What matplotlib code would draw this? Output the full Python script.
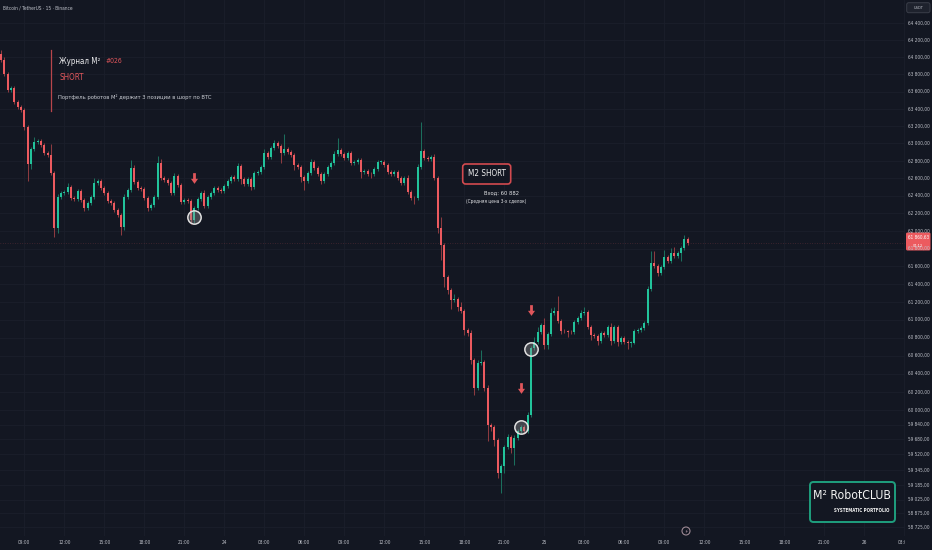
import numpy as np
import matplotlib
matplotlib.use("Agg")
import matplotlib.pyplot as plt
from matplotlib import font_manager
from matplotlib.patches import FancyBboxPatch, Circle
from matplotlib.path import Path
from matplotlib.transforms import (Bbox, TransformedBbox, IdentityTransform,
                                   blended_transform_factory, offset_copy)
from matplotlib.ticker import NullLocator, NullFormatter

# ---------------- data ----------------
open0 = 64040
close = [
    63970, 63805, 63620, 63642, 63479, 63421, 63386, 63190, 62763, 62935,
    63016, 63027, 62982, 62890, 62867, 62660, 62033, 62385, 62431, 62442,
    62500, 62374, 62362, 62454, 62351, 62260, 62317, 62385, 62546, 62569,
    62488, 62431, 62340, 62317, 62237, 62180, 62044, 62385, 62465, 62717,
    62557, 62488, 62477, 62374, 62260, 62294, 62385, 62775, 62603, 62580,
    62546, 62431, 62626, 62523, 62328, 62351, 62340, 62123, 62260, 62362,
    62431, 62283, 62385, 62431, 62488, 62465, 62454, 62511, 62569, 62614,
    62591, 62740, 62591, 62534, 62591, 62500, 62660, 62671, 62729, 62890,
    62844, 62947, 63004, 62970, 62890, 62936, 62901, 62867, 62752, 62729,
    62614, 62569, 62660, 62786, 62717, 62649, 62569, 62649, 62729, 62775,
    62878, 62924, 62878, 62832, 62890, 62775, 62786, 62809, 62671, 62683,
    62649, 62645, 62706, 62786, 62790, 62752, 62671, 62649, 62671, 62603,
    62546, 62603, 62442, 62374, 62370, 62729, 62913, 62832, 62821, 62844,
    62603, 62033, 61840, 61479, 61333, 61220, 61231, 61142, 61097, 60885,
    60852, 60552, 60242, 60519, 60530, 60242, 59836, 59814, 59672, 59313,
    59389, 59596, 59705, 59585, 59694, 59770, 59814, 59770, 59945, 60685,
    60752, 60863, 60941, 60719, 60841, 61075, 61097, 60986, 60874, 60870,
    60863, 60858, 60975, 61019, 61075, 61086, 60918, 60830, 60819, 60763,
    60852, 60830, 60918, 60763, 60918, 60752, 60796, 60752, 60741, 60745,
    60874, 60885, 60907, 60963, 61344, 61636, 61602, 61523, 61591, 61704,
    61659, 61749, 61715, 61750, 61806, 61907, 61860.63,
]
wick_up = [
    50, 30, 25, 25, 20, 20, 25, 20, 20, 20,
    60, 20, 25, 20, 20, 130, 20, 30, 20, 25,
    50, 20, 25, 20, 20, 20, 20, 25, 60, 20,
    25, 20, 20, 20, 20, 20, 20, 30, 20, 90,
    30, 20, 20, 20, 20, 20, 25, 80, 40, 20,
    20, 20, 30, 20, 20, 20, 20, 20, 20, 25,
    20, 30, 20, 20, 25, 20, 20, 20, 20, 25,
    20, 40, 20, 20, 20, 20, 25, 20, 20, 40,
    20, 25, 40, 20, 20, 170, 20, 20, 20, 20,
    20, 20, 25, 30, 20, 20, 20, 20, 20, 25,
    30, 140, 20, 20, 25, 20, 20, 20, 20, 20,
    20, 20, 20, 25, 20, 20, 20, 20, 20, 20,
    20, 20, 30, 20, 20, 30, 330, 20, 20, 20,
    30, 20, 120, 20, 20, 20, 60, 20, 60, 20,
    20, 30, 20, 30, 130, 20, 30, 20, 20, 20,
    20, 20, 30, 20, 30, 20, 20, 20, 30, 20,
    60, 60, 20, 80, 20, 60, 40, 170, 20, 20,
    20, 20, 20, 20, 30, 60, 20, 20, 20, 20,
    20, 20, 25, 40, 20, 20, 20, 20, 20, 20,
    20, 20, 20, 20, 30, 140, 140, 20, 20, 80,
    20, 60, 70, 20, 20, 45, 25,
]
wick_dn = [
    20, 20, 30, 20, 20, 20, 25, 30, 200, 60,
    20, 20, 20, 20, 20, 25, 100, 60, 20, 20,
    20, 20, 20, 20, 25, 30, 20, 20, 20, 20,
    20, 20, 25, 20, 20, 25, 90, 40, 20, 20,
    20, 20, 20, 20, 30, 20, 20, 20, 20, 20,
    20, 25, 20, 20, 20, 20, 20, 40, 30, 20,
    20, 20, 20, 20, 20, 20, 20, 20, 20, 20,
    20, 20, 60, 20, 20, 40, 20, 20, 20, 20,
    20, 20, 20, 20, 110, 20, 20, 20, 60, 20,
    60, 100, 20, 20, 20, 20, 40, 20, 20, 20,
    20, 20, 20, 20, 20, 20, 20, 20, 70, 20,
    20, 45, 20, 20, 20, 20, 20, 20, 20, 20,
    20, 20, 20, 20, 60, 20, 20, 20, 20, 20,
    20, 60, 170, 110, 40, 100, 20, 40, 20, 50,
    30, 40, 80, 20, 20, 30, 170, 40, 60, 50,
    220, 80, 20, 50, 185, 20, 30, 30, 20, 20,
    20, 20, 20, 40, 40, 20, 20, 20, 30, 20,
    60, 20, 20, 20, 20, 20, 20, 60, 20, 50,
    20, 20, 20, 50, 20, 50, 20, 20, 70, 50,
    20, 20, 20, 20, 20, 20, 20, 30, 20, 20,
    20, 20, 20, 20, 90, 20, 20,
]
entry_idx = [58, 156, 159]
entry_price = [62160, 59810, 60676]

ytick_vals = [64400, 64200, 64000, 63800, 63600, 63400, 63200, 63000, 62800,
              62600, 62400, 62200, 62000, 61800, 61600, 61400, 61200, 61000,
              60800, 60600, 60400, 60200, 60000, 59840, 59680, 59520, 59345,
              59185, 59025, 58875, 58725]
xtick_labels = ["09:00", "12:00", "15:00", "18:00", "21:00", "24", "03:00",
                "06:00", "09:00", "12:00", "15:00", "18:00", "21:00", "25",
                "03:00", "06:00", "09:00", "12:00", "15:00", "18:00", "21:00",
                "26", "03:00"]
first_tick_idx = 7      # 09:00 is the 8th 15-min candle
candles_per_tick = 12   # 3 hours

# ---------------- style ----------------
W, H = 932, 550
BG = "#131722"
GRID = "#1b1f2b"
UP, DN = "#22c39b", "#ec5a5f"
UPW, DNW = "#1b6e5c", "#8c3b40"
TXT = "#bfc2ca"
RED = "#e0565b"

# look for a condensed / narrow family (reference text is narrow)
cond = [f for f in font_manager.fontManager.ttflist
        if ("Narrow" in f.name or "Condensed" in f.name
            or f.stretch in ("condensed", "semi-condensed", "extra-condensed"))
        and f.weight in (400, "normal", "regular", "book")]
if cond:
    FAM = [cond[0].name, "DejaVu Sans"]
    STRETCH = cond[0].stretch
    WID = 1.0
else:
    FAM = ["Roboto", "DejaVu Sans"]
    STRETCH = "normal"
    WID = 1.12
plt.rcParams["font.family"] = FAM
plt.rcParams["font.stretch"] = STRETCH

fig = plt.figure(figsize=(W / 100, H / 100), dpi=100, facecolor=BG)
ax = fig.add_axes([0, 14 / H, 905 / W, 536 / H])
ax.set_facecolor(BG)
for s in ax.spines.values():
    s.set_visible(False)

opens = np.array([open0] + close[:-1], dtype=float)
closes = np.array(close, dtype=float)
idx = np.arange(len(closes))
highs = np.maximum(opens, closes) + np.array(wick_up)
lows = np.minimum(opens, closes) - np.array(wick_dn)
up = closes >= opens

ax.set_yscale("log")
ax.set_ylim(58633, 64675)
ax.set_xlim(-0.3, 271.2)
ax.yaxis.set_minor_locator(NullLocator())
ax.yaxis.set_minor_formatter(NullFormatter())
xt = [first_tick_idx + candles_per_tick * k for k in range(len(xtick_labels))]
ax.set_xticks(xt)
ax.set_yticks(ytick_vals)
ax.tick_params(length=0, labelbottom=False, labelleft=False)
ax.grid(True, color=GRID, lw=0.6)
ax.set_axisbelow(True)

ax.vlines(idx, lows, highs, colors=np.where(up, UPW, DNW), lw=0.75, zorder=2)
body_h = np.maximum(np.abs(closes - opens), 7)
ax.bar(idx, body_h, bottom=np.minimum(opens, closes), width=0.64,
       color=np.where(up, UP, DN), linewidth=0, zorder=3)

# price line
ax.axhline(closes[-1], color=DN, lw=0.5, ls=(0, (1, 2.5)), alpha=0.35, zorder=1)

# entries
ax.plot(entry_idx, entry_price, "o", ms=9.6, mfc=(0.62, 0.62, 0.62, 0.35),
        mec="#e0e0e0", mew=1.1, zorder=5)
arrow = Path([(-0.13, 0.5), (0.13, 0.5), (0.13, -0.03), (0.33, -0.03),
              (0, -0.5), (-0.33, -0.03), (-0.13, -0.03), (-0.13, 0.5)],
             closed=True)
tr = offset_copy(ax.transData, fig=fig, x=0, y=39, units="dots")
ax.plot(entry_idx, entry_price, ls="none", marker=arrow, ms=7.7, mfc=RED,
        mec="none", transform=tr, zorder=5)

# ---------------- text helpers ----------------
r = fig.canvas.get_renderer()


def fit(t, target):
    t.set_fontsize(10)
    w = t.get_window_extent(renderer=r).width
    t.set_fontsize(10 * target * WID / w)
    return t


def ft(x, y, s, target, **kw):
    t = fig.text(x / W, 1 - y / H, s, **kw)
    return fit(t, target)


def rbox(x0, y0, x1, y1, rad, **kw):
    p = FancyBboxPatch((x0, H - y1), x1 - x0, y1 - y0,
                       boxstyle=f"round,pad=0,rounding_size={rad}",
                       transform=IdentityTransform(), **kw)
    fig.add_artist(p)
    return p


def fmt(v):
    return f"{v:,.2f}".replace(",", " ").replace(".", ",")


tmp = fig.text(0, 0, fmt(64400))
fit(tmp, 21.5)
fs_axis = tmp.get_fontsize()
tmp.remove()

# y labels
ytr = blended_transform_factory(fig.transFigure, ax.transData)
for v in ytick_vals:
    fig.text(908 / W, v, fmt(v), transform=ytr, fontsize=fs_axis, color=TXT,
             ha="left", va="center")

# x labels
xtr = blended_transform_factory(ax.transData, fig.transFigure)
clip = TransformedBbox(Bbox([[0, 0], [905 / W, 1]]), fig.transFigure)
for xi, lab in zip(xt, xtick_labels):
    t = fig.text(xi, 1 - 543 / H, lab, transform=xtr, fontsize=fs_axis,
                 color=TXT, ha="center", va="center")
    t.set_clip_box(clip)
    t.set_clip_on(True)

# top-left symbol
ft(3, 7.5, "Bitcoin / TetherUS · 15 · Binance", 71, color=TXT, ha="left",
   va="center")

# USDT box
rbox(906.7, 2.7, 930, 12.7, 2, fc="#1e222d", ec="#3a3e49", lw=0.7)
ft(918.3, 7.8, "USDT", 10, color=TXT, ha="center", va="center")

# current price label
rbox(906, 232.5, 930.5, 250.5, 1.5, fc=DN, ec="none")
ft(918.2, 237.2, "61 860,63", 21, color="white", ha="center", va="center")
ft(918.2, 245.8, "07:12", 10, color="white", ha="center", va="center")

# header
fig.add_artist(plt.Line2D([51 / W, 51 / W], [1 - 50 / H, 1 - 111 / H],
                          transform=fig.transFigure, color="#b8464b", lw=0.9))
ft(59, 61, "Журнал М²", 41, color="#ececee", ha="left", va="center")
ft(106, 61, "#026", 17, color=RED, ha="left", va="center")
ft(59, 77, "SHORT", 24.5, color=RED, ha="left", va="center")
ft(58, 96.5, "Портфель роботов М² держит 3 позиции в шорт по BTC", 155,
   color="#c9ccd3", ha="left", va="center")

# M2 SHORT annotation
rbox(462.7, 164, 510.7, 184, 3, fc=BG, ec="#d24a4f", lw=1.2)
ft(486.7, 174, "M2 SHORT", 38, color="#f0f0f0", ha="center", va="center")
ft(502, 193, "Вход: 60 882", 35, color="#e2e3e6", ha="center", va="center")
ft(496, 201.7, "(Средняя цена 3-х сделок)", 61, color="#e2e3e6",
   ha="center", va="center")

# logo
rbox(810, 482, 895, 522, 3.5, fc=BG, ec="#1f9f7e", lw=1.4)
ft(851.6, 495.8, "M² RobotCLUB", 77, color="#f2f2f2", ha="center", va="center")
ft(889, 511, "SYSTEMATIC PORTFOLIO", 56, color="#f2f2f2", ha="right",
   va="center", fontweight="bold")

# events icon
c = Circle((686, H - 531), 4, transform=IdentityTransform(), fc="none",
           ec="#9c8893", lw=0.8)
fig.add_artist(c)
fig.text(686 / W, 1 - 531 / H, "⚡", fontsize=3.6, color="#c7a7b6",
         ha="center", va="center", family="DejaVu Sans")

fig.savefig("out.png", dpi=100, facecolor=BG)
